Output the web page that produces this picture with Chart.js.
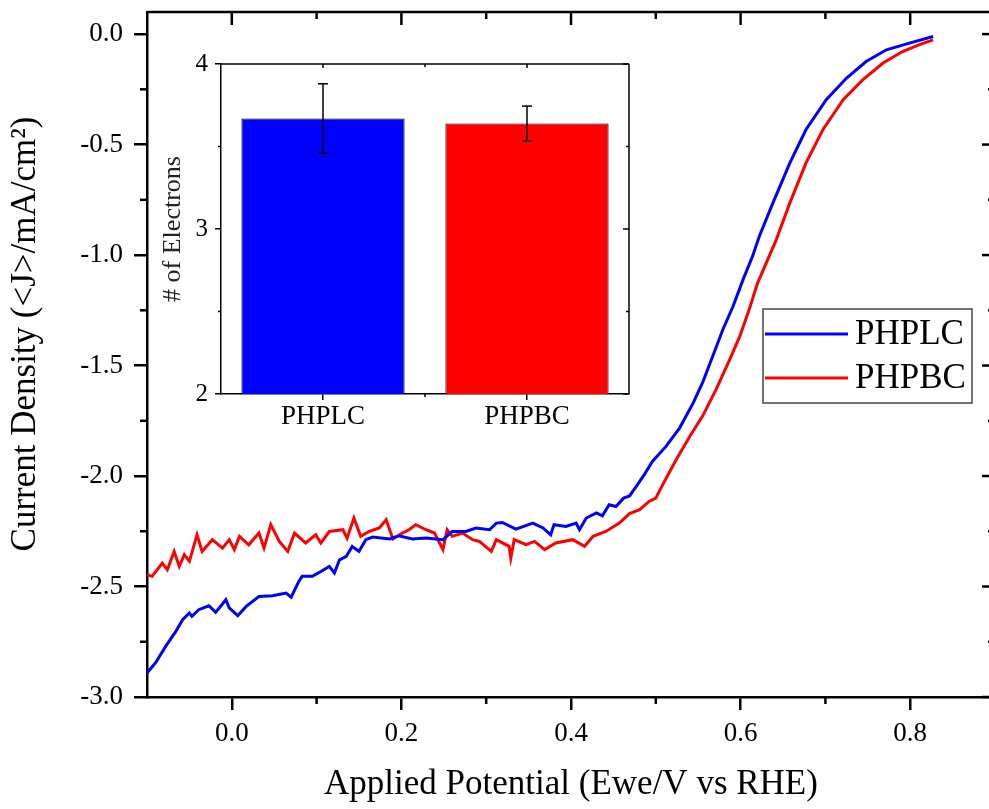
<!DOCTYPE html>
<html>
<head>
<meta charset="utf-8">
<script src="https://cdn.jsdelivr.net/npm/chart.js@4.4.0/dist/chart.umd.min.js"></script>
<style>
    html, body { margin: 0; padding: 0; background: #fff; overflow: hidden; }
    #wrap { position: relative; width: 1000px; height: 809px; }
    #main { position: absolute; left: 0; top: 0; }
    #inset { position: absolute; left: 150px; top: 40px; }
</style>
</head>
<body>
<div id="wrap">
    <canvas id="main" width="1000" height="809"></canvas>
    <canvas id="inset" width="490" height="400"></canvas>
</div>
<script>
// LSV curves (potential in V vs RHE, current density in mA/cm2)
const phplcV = [-0.100, -0.090, -0.078, -0.066, -0.058, -0.050, -0.047, -0.039, -0.027, -0.019, -0.007, -0.003,
    0.007, 0.017, 0.032, 0.048, 0.064, 0.070, 0.079, 0.083, 0.095, 0.105, 0.115, 0.121, 0.127, 0.135, 0.142,
    0.150, 0.158, 0.166, 0.186, 0.197, 0.213, 0.229, 0.249, 0.260, 0.276, 0.288, 0.304, 0.312, 0.319, 0.335,
    0.355, 0.367, 0.376, 0.380, 0.394, 0.406, 0.410, 0.418, 0.430, 0.437, 0.445, 0.453, 0.462, 0.469, 0.477,
    0.487, 0.496, 0.512, 0.528, 0.544, 0.555, 0.567, 0.579, 0.591, 0.603, 0.614, 0.622, 0.638, 0.658, 0.677,
    0.701, 0.725, 0.748, 0.772, 0.799, 0.827];
const phplcJ = [-2.891, -2.846, -2.771, -2.703, -2.650, -2.620, -2.635, -2.605, -2.587, -2.617, -2.560, -2.597,
    -2.632, -2.590, -2.545, -2.542, -2.530, -2.548, -2.477, -2.454, -2.454, -2.432, -2.409, -2.439, -2.379, -2.364, -2.319,
    -2.341, -2.288, -2.276, -2.285, -2.270, -2.285, -2.281, -2.288, -2.251, -2.251, -2.235, -2.243, -2.213, -2.210, -2.240,
    -2.213, -2.235, -2.266, -2.220, -2.228, -2.213, -2.243, -2.190, -2.167, -2.180, -2.130, -2.138, -2.100, -2.090, -2.047,
    -1.990, -1.934, -1.866, -1.783, -1.670, -1.579, -1.459, -1.338, -1.233, -1.110, -1.006, -0.916, -0.765, -0.584, -0.433,
    -0.297, -0.199, -0.124, -0.071, -0.041, -0.011];

const phpbcV = [-0.100, -0.094, -0.082, -0.076, -0.068, -0.062, -0.056, -0.050, -0.041, -0.035, -0.023, -0.011,
    -0.003, 0.003, 0.009, 0.020, 0.032, 0.038, 0.046, 0.056, 0.066, 0.074, 0.087, 0.099, 0.105, 0.115, 0.131,
    0.136, 0.144, 0.152, 0.162, 0.174, 0.182, 0.190, 0.201, 0.209, 0.217, 0.229, 0.239, 0.249, 0.254, 0.260,
    0.272, 0.284, 0.292, 0.306, 0.312, 0.327, 0.329, 0.333, 0.347, 0.357, 0.369, 0.382, 0.402, 0.416, 0.426,
    0.441, 0.457, 0.469, 0.481, 0.492, 0.500, 0.508, 0.524, 0.540, 0.555, 0.571, 0.587, 0.599, 0.610, 0.620,
    0.642, 0.658, 0.677, 0.697, 0.721, 0.744, 0.768, 0.791, 0.811, 0.827];
const phpbcJ = [-2.447, -2.454, -2.394, -2.424, -2.341, -2.409, -2.356, -2.386, -2.266, -2.341, -2.288, -2.326,
    -2.288, -2.333, -2.273, -2.311, -2.258, -2.326, -2.220, -2.296, -2.341, -2.258, -2.303, -2.266, -2.303, -2.251, -2.243,
    -2.281, -2.190, -2.273, -2.251, -2.235, -2.198, -2.285, -2.258, -2.243, -2.220, -2.243, -2.258, -2.333, -2.243, -2.273,
    -2.258, -2.288, -2.296, -2.341, -2.288, -2.318, -2.371, -2.288, -2.311, -2.296, -2.333, -2.303, -2.288, -2.318, -2.273,
    -2.251, -2.213, -2.170, -2.152, -2.115, -2.100, -2.040, -1.926, -1.821, -1.730, -1.609, -1.474, -1.368, -1.248, -1.127,
    -0.931, -0.765, -0.584, -0.433, -0.297, -0.207, -0.131, -0.079, -0.048, -0.026];

const xTicks = [0.0, 0.2, 0.4, 0.6, 0.8];
const yTicks = [0.0, -0.5, -1.0, -1.5, -2.0, -2.5, -3.0];

// inset: number of electrons
const samples = ["PHPLC", "PHPBC"];
const electrons = [3.67, 3.64];
const electronsErr = [0.21, 0.105];
const electronTicks = [2, 3, 4];

const serif = "'Liberation Serif', 'Times New Roman', serif";

function line(ctx, x1, y1, x2, y2) {
    ctx.beginPath();
    ctx.moveTo(x1, y1);
    ctx.lineTo(x2, y2);
    ctx.stroke();
}

function midpoints(arr) {
    return arr.slice(1).map((v, i) => (v + arr[i]) / 2);
}

// top/right frame, mirror ticks and minor ticks of the main plot
const mainFrame = {
    id: "mainFrame",
    afterDraw(chart) {
        const { ctx, chartArea: a, scales: { x, y } } = chart;
        ctx.save();
        ctx.strokeStyle = "#000";
        ctx.lineWidth = 2.5;
        line(ctx, a.left, a.top, a.right, a.top);
        line(ctx, a.right, a.top, a.right, a.bottom);
        xTicks.forEach(v => {
            let px = x.getPixelForValue(v);
            line(ctx, px, a.top, px, a.top + 13);
        });
        yTicks.forEach(v => {
            let py = y.getPixelForValue(v);
            line(ctx, a.right - 13, py, a.right, py);
        });
        midpoints(xTicks).forEach(v => {
            let px = x.getPixelForValue(v);
            line(ctx, px, a.bottom, px, a.bottom + 7);
            line(ctx, px, a.top, px, a.top + 7);
        });
        midpoints(yTicks).forEach(v => {
            let py = y.getPixelForValue(v);
            line(ctx, a.left - 7, py, a.left, py);
            line(ctx, a.right - 7, py, a.right, py);
        });

        // y axis title
        ctx.fillStyle = "#000";
        ctx.font = "35px " + serif;
        ctx.textAlign = "center";
        ctx.textBaseline = "middle";
        ctx.translate(26, 334);
        ctx.rotate(-Math.PI / 2);
        ctx.fillText("Current Density (<J>/mA/cm\u00B2)", 0, 0);
        ctx.restore();

        // legend box
        ctx.save();
        ctx.strokeStyle = "#444";
        ctx.lineWidth = 1.5;
        ctx.strokeRect(763, 309, 209, 94);
        ctx.font = "35px " + serif;
        ctx.textBaseline = "middle";
        ctx.fillStyle = "#000";
        chart.data.datasets.forEach((ds, i) => {
            let ly = 334 + i * 44;
            ctx.strokeStyle = ds.borderColor;
            ctx.lineWidth = 3;
            line(ctx, 765, ly, 848, ly);
            ctx.fillText(ds.label, 855, ly + 1);
        });
        ctx.restore();
    }
};

new Chart(document.getElementById("main"), {
    type: "line",
    data: {
        datasets: [
            {
                label: "PHPLC",
                data: phplcV.map((v, i) => ({ x: v, y: phplcJ[i] })),
                borderColor: "#0000ff",
                borderWidth: 3,
                pointRadius: 0,
                tension: 0
            },
            {
                label: "PHPBC",
                data: phpbcV.map((v, i) => ({ x: v, y: phpbcJ[i] })),
                borderColor: "#ff0000",
                borderWidth: 3,
                pointRadius: 0,
                tension: 0
            }
        ]
    },
    options: {
        responsive: false,
        animation: false,
        layout: { padding: { top: 12, right: 5, left: 0, bottom: 0 } },
        plugins: { legend: { display: false }, tooltip: { enabled: false } },
        scales: {
            x: {
                type: "linear",
                min: -0.1,
                max: 0.9,
                afterBuildTicks: s => { s.ticks = xTicks.map(v => ({ value: v })); },
                afterFit: s => { s.height = 112; s.paddingLeft = 0; s.paddingRight = 0; },
                ticks: {
                    color: "#000",
                    font: { family: serif, size: 27 },
                    padding: 8,
                    maxRotation: 0,
                    callback: v => Number(v).toFixed(1)
                },
                grid: { display: true, drawOnChartArea: false, tickLength: 13, color: "#000", lineWidth: 2.5 },
                border: { display: true, color: "#000", width: 2.5 },
                title: {
                    display: true,
                    text: "Applied Potential (Ewe/V vs RHE)",
                    color: "#000",
                    font: { family: serif, size: 35 },
                    padding: { top: 0, bottom: 3 }
                }
            },
            y: {
                type: "linear",
                min: -3.0,
                max: 0.1,
                afterBuildTicks: s => { s.ticks = yTicks.map(v => ({ value: v })); },
                afterFit: s => { s.width = 147; s.paddingTop = 0; s.paddingBottom = 0; },
                ticks: {
                    color: "#000",
                    font: { family: serif, size: 27 },
                    padding: 11,
                    callback: v => Number(v).toFixed(1)
                },
                grid: { display: true, drawOnChartArea: false, tickLength: 13, color: "#000", lineWidth: 2.5 },
                border: { display: true, color: "#000", width: 2.5 }
            }
        }
    },
    plugins: [mainFrame]
});

// error bars and frame of the inset
const insetExtras = {
    id: "insetExtras",
    afterDatasetsDraw(chart) {
        const { ctx, scales: { x, y } } = chart;
        ctx.save();
        ctx.strokeStyle = "#000";
        ctx.lineWidth = 1.5;
        electrons.forEach((m, i) => {
            let px = x.getPixelForValue(i);
            let top = y.getPixelForValue(m + electronsErr[i]);
            let bot = y.getPixelForValue(m - electronsErr[i]);
            line(ctx, px, top, px, bot);
            line(ctx, px - 5, top, px + 5, top);
            line(ctx, px - 5, bot, px + 5, bot);
        });
        ctx.restore();
    },
    afterDraw(chart) {
        const { ctx, chartArea: a, scales: { x, y } } = chart;
        ctx.save();
        ctx.strokeStyle = "#000";
        ctx.lineWidth = 1.5;
        line(ctx, a.left, a.top, a.right, a.top);
        line(ctx, a.right, a.top, a.right, a.bottom);
        electronTicks.forEach(v => {
            let py = y.getPixelForValue(v);
            line(ctx, a.right - 6, py, a.right, py);
        });
        midpoints(electronTicks).forEach(v => {
            let py = y.getPixelForValue(v);
            line(ctx, a.left - 3, py, a.left, py);
            line(ctx, a.right - 3, py, a.right, py);
        });
        samples.forEach((s, i) => {
            let px = x.getPixelForValue(i);
            line(ctx, px, a.top, px, a.top + 4);
        });
        let mid = (x.getPixelForValue(0) + x.getPixelForValue(1)) / 2;
        line(ctx, mid, a.bottom, mid, a.bottom + 3);
        line(ctx, mid, a.top, mid, a.top + 3);
        ctx.restore();
    }
};

new Chart(document.getElementById("inset"), {
    type: "bar",
    data: {
        labels: samples,
        datasets: [{
            label: "# of Electrons",
            data: electrons,
            backgroundColor: ["#0000ff", "#ff0000"],
            borderColor: "#000",
            borderWidth: 1,
            barPercentage: 0.8,
            categoryPercentage: 1.0
        }]
    },
    options: {
        responsive: false,
        animation: false,
        layout: { padding: { top: 24, right: 11, left: 0, bottom: 0 } },
        plugins: { legend: { display: false }, tooltip: { enabled: false } },
        scales: {
            x: {
                afterFit: s => { s.height = 46; s.paddingLeft = 0; s.paddingRight = 0; },
                ticks: { color: "#000", font: { family: serif, size: 27 }, padding: 1 },
                grid: { display: true, offset: false, drawOnChartArea: false, tickLength: 6, color: "#000", lineWidth: 1.5 },
                border: { display: true, color: "#000", width: 1.5 }
            },
            y: {
                min: 2,
                max: 4,
                afterBuildTicks: s => { s.ticks = electronTicks.map(v => ({ value: v })); },
                afterFit: s => { s.width = 71; s.paddingTop = 0; s.paddingBottom = 0; },
                ticks: { color: "#000", font: { family: serif, size: 25 }, padding: 7 },
                grid: { display: true, drawOnChartArea: false, tickLength: 6, color: "#000", lineWidth: 1.5 },
                border: { display: true, color: "#000", width: 1.5 },
                title: {
                    display: true,
                    text: "# of Electrons",
                    color: "#222",
                    font: { family: serif, size: 26 },
                    padding: { top: 8, bottom: 0 }
                }
            }
        }
    },
    plugins: [insetExtras]
});
</script>
</body>
</html>
